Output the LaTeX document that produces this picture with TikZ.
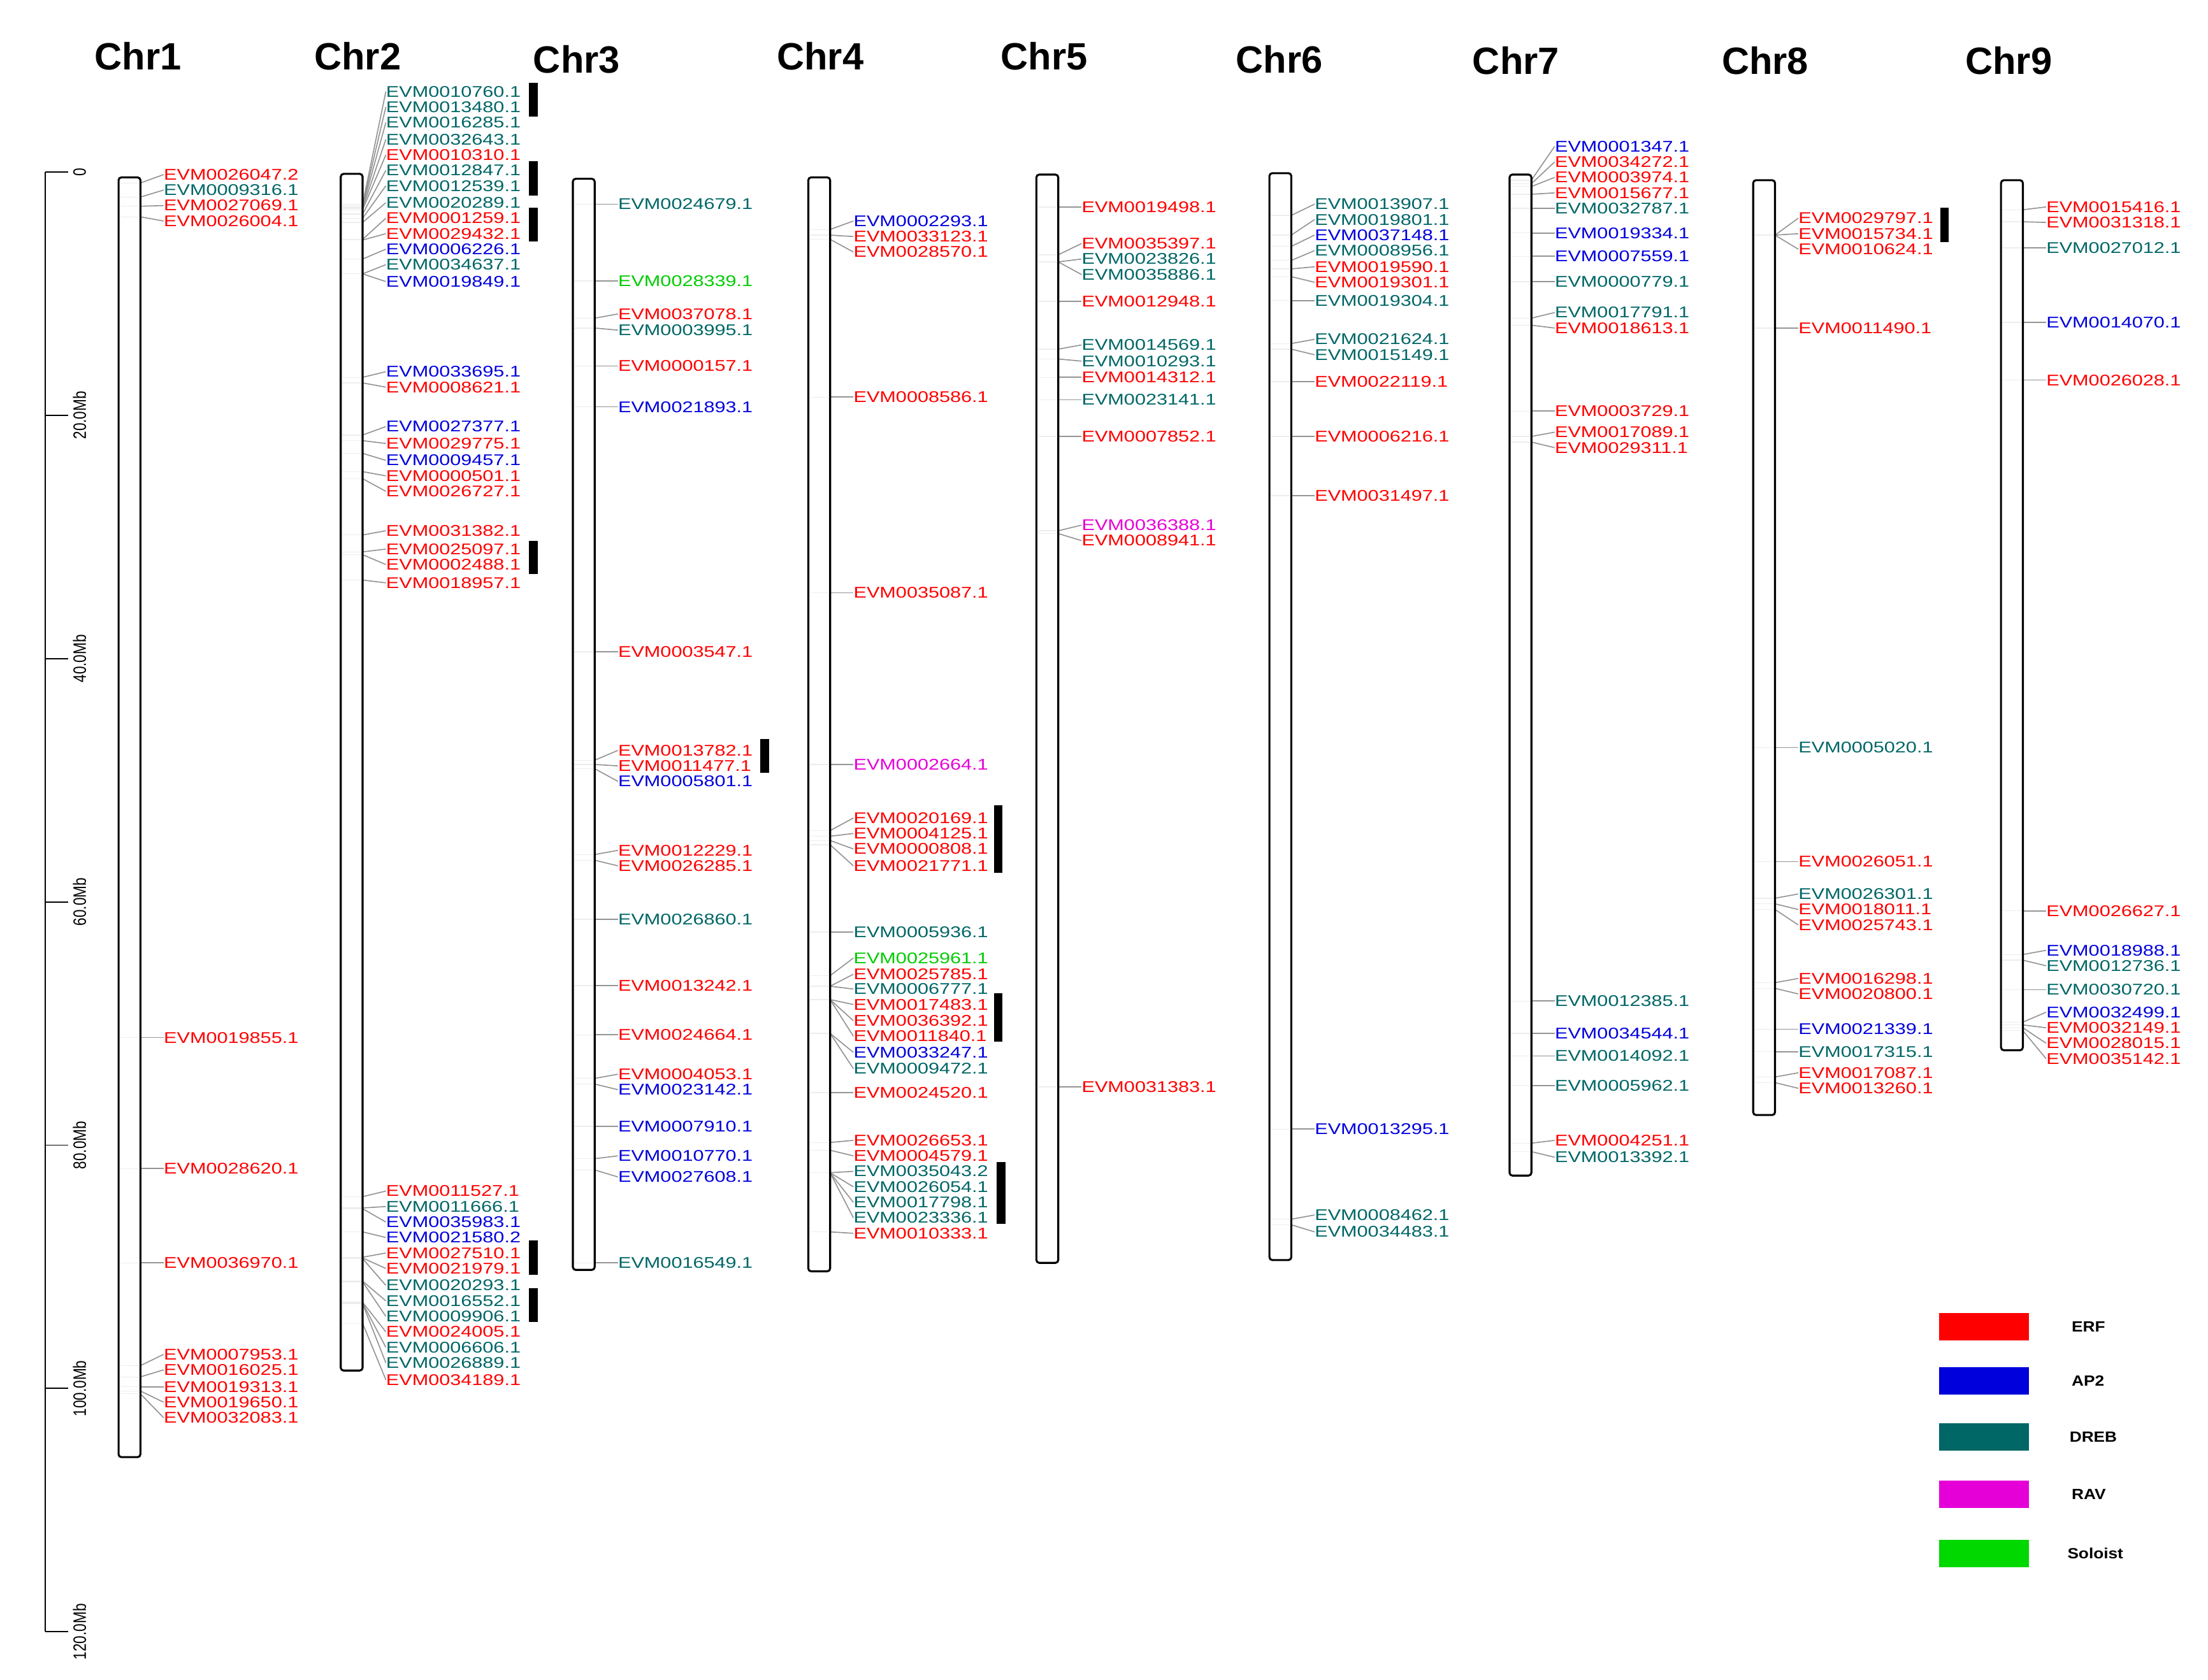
\documentclass[tikz,border=0pt]{standalone}
\usepackage{fontspec}
\setmainfont{Liberation Sans}
\usepackage{graphicx}
\definecolor{erf}{HTML}{FF0000}
\definecolor{ap2}{HTML}{0000DD}
\definecolor{dreb}{HTML}{006666}
\definecolor{rav}{HTML}{E600D8}
\definecolor{solo}{HTML}{00CC00}
\definecolor{solokey}{HTML}{00D800}
\tikzset{
  chrbar/.style={draw=black, line width=1.4pt, rounded corners=2pt},
  inbar/.style={draw=black!7, line width=0.6pt},
  conn/.style={draw=black!42, line width=0.75pt},
  lab/.style={anchor=west, inner sep=0pt, font=\fontsize{11}{12}\selectfont},
  ttl/.style={inner sep=0pt, font=\fontsize{27}{30}\selectfont\bfseries},
  tandem/.style={fill=black},
  axisline/.style={draw=black, line width=0.8pt},
  ticklab/.style={rotate=90, inner sep=0pt, font=\fontsize{10.2}{12}\selectfont},
  keybox/.style={draw=none, minimum width=64pt, minimum height=19.5pt, inner sep=0pt},
  keylab/.style={anchor=west, inner sep=0pt, font=\fontsize{10.5}{12}\selectfont\bfseries},
}
% #1 chromosome id, #2 bar left x, #3 top y, #4 bottom y, #5 list gene-y/label-y/colour/name
\newcommand\chrgenes[5]{%
  \foreach \gy/\ly/\gc/\gname [count=\i] in {#5} {
    \draw[inbar] (#2+1,\gy) -- (#2+14.5,\gy);
    \coordinate (#1g\i) at (#2+15.5,\gy);
    \node[lab, text=\gc] (#1l\i) at (#2+32,\ly) {\scalebox{1.26}[1]{\gname}};
    \draw[conn] (#1g\i) -- (#1l\i.west);
  }
  \draw[chrbar] (#2,#3) rectangle (#2+15.5,#4);
}
\begin{document}
\begin{tikzpicture}[x=1pt,y=-1pt]
\useasboundingbox (0,0) rectangle (1568,1193);

% titles
\node[ttl] (t1) at (98,40) {Chr1};
\node[ttl] (t2) at (254,40) {Chr2};
\node[ttl] (t3) at (409.5,42) {Chr3};
\node[ttl] (t4) at (582.5,40) {Chr4};
\node[ttl] (t5) at (741.5,40) {Chr5};
\node[ttl] (t6) at (908.5,42) {Chr6};
\node[ttl] (t7) at (1076.5,43) {Chr7};
\node[ttl] (t8) at (1253.5,43) {Chr8};
\node[ttl] (t9) at (1426.5,43) {Chr9};

% scale axis
\coordinate (ax0) at (32.3,122.2);
\coordinate (ax1) at (32.3,1159);
\draw[axisline] (ax0) -- (ax1);
\foreach \k/\txt in {0/0,1/20.0Mb,2/40.0Mb,3/60.0Mb,4/80.0Mb,5/100.0Mb,6/120.0Mb} {
  \coordinate (tk\k) at (32.3,122.2+172.8*\k);
  \draw[axisline] (tk\k) -- ++(16,0);
  \node[ticklab] (tl\k) at (56.5,122.2+172.8*\k) {\scalebox{1}[1.25]{\txt}};
}

\chrgenes{a}{84.2}{126}{1035}{130/124/erf/EVM0026047.2, 140/135/dreb/EVM0009316.1, 146.5/146/erf/EVM0027069.1, 154/157/erf/EVM0026004.1, 737/737/erf/EVM0019855.1, 830/830/erf/EVM0028620.1, 897/897/erf/EVM0036970.1, 970/962/erf/EVM0007953.1, 978/973/erf/EVM0016025.1, 985/985/erf/EVM0019313.1, 988/996/erf/EVM0019650.1, 990/1007/erf/EVM0032083.1}

\chrgenes{b}{242}{123.5}{973.5}{145/65/dreb/EVM0010760.1, 146/76/dreb/EVM0013480.1, 147/87/dreb/EVM0016285.1, 148/99/dreb/EVM0032643.1, 149/110/erf/EVM0010310.1, 152/121/dreb/EVM0012847.1, 155/132/dreb/EVM0012539.1, 158/144/dreb/EVM0020289.1, 170/155/erf/EVM0001259.1, 170.5/166/erf/EVM0029432.1, 184/177/ap2/EVM0006226.1, 194.5/188/dreb/EVM0034637.1, 194.5/200/ap2/EVM0019849.1, 268/264/ap2/EVM0033695.1, 272/275/erf/EVM0008621.1, 309/303/ap2/EVM0027377.1, 313/315/erf/EVM0029775.1, 322/327/ap2/EVM0009457.1, 335/338/erf/EVM0000501.1, 340/349/erf/EVM0026727.1, 380/377/erf/EVM0031382.1, 392/390/erf/EVM0025097.1, 394/401/erf/EVM0002488.1, 412/414/erf/EVM0018957.1, 850/846/erf/EVM0011527.1, 858/857/dreb/EVM0011666.1, 858.5/868/ap2/EVM0035983.1, 875/879/ap2/EVM0021580.2, 893/890/erf/EVM0027510.1, 893.5/901/erf/EVM0021979.1, 894/913/dreb/EVM0020293.1, 910/924/dreb/EVM0016552.1, 910.5/935/dreb/EVM0009906.1, 925/946/erf/EVM0024005.1, 925.5/957/dreb/EVM0006606.1, 926/968/dreb/EVM0026889.1, 940/980/erf/EVM0034189.1}

\chrgenes{c}{406.8}{127}{902}{145/145/dreb/EVM0024679.1, 199.5/199.5/solo/EVM0028339.1, 226/223/erf/EVM0037078.1, 233/234.5/dreb/EVM0003995.1, 260/260/erf/EVM0000157.1, 289/289/ap2/EVM0021893.1, 463/463/erf/EVM0003547.1, 540/533/erf/EVM0013782.1, 543/544/erf/EVM0011477.1, 546/555/ap2/EVM0005801.1, 607/604/erf/EVM0012229.1, 611/615/erf/EVM0026285.1, 653/653/dreb/EVM0026860.1, 700/700/erf/EVM0013242.1, 735/735/erf/EVM0024664.1, 766/763/erf/EVM0004053.1, 770/774/ap2/EVM0023142.1, 800/800/ap2/EVM0007910.1, 823/821/ap2/EVM0010770.1, 831/836/ap2/EVM0027608.1, 897/897/dreb/EVM0016549.1}

\chrgenes{d}{574}{126}{903}{163/157/ap2/EVM0002293.1, 167/168/erf/EVM0033123.1, 170/179/erf/EVM0028570.1, 282/282/erf/EVM0008586.1, 421/421/erf/EVM0035087.1, 543/543/rav/EVM0002664.1, 590/581/erf/EVM0020169.1, 594/592/erf/EVM0004125.1, 597/603/erf/EVM0000808.1, 600/615/erf/EVM0021771.1, 662/662/dreb/EVM0005936.1, 693/680.5/solo/EVM0025961.1, 700.5/692/erf/EVM0025785.1, 700.5/702.5/dreb/EVM0006777.1, 710/713.5/erf/EVM0017483.1, 710/725/erf/EVM0036392.1, 710/736/erf/EVM0011840.1, 734/747.5/ap2/EVM0033247.1, 734/759/dreb/EVM0009472.1, 776/776/erf/EVM0024520.1, 811.5/810/erf/EVM0026653.1, 817/821/erf/EVM0004579.1, 833/832/dreb/EVM0035043.2, 833/843/dreb/EVM0026054.1, 833/854/dreb/EVM0017798.1, 833/865/dreb/EVM0023336.1, 875/876/erf/EVM0010333.1}

\chrgenes{e}{736}{124}{897}{147/147/erf/EVM0019498.1, 181/173/erf/EVM0035397.1, 186/184/dreb/EVM0023826.1, 186/195/dreb/EVM0035886.1, 214/214/erf/EVM0012948.1, 248/245/dreb/EVM0014569.1, 255/256.5/dreb/EVM0010293.1, 268/268/erf/EVM0014312.1, 284/284/dreb/EVM0023141.1, 310/310/erf/EVM0007852.1, 377/373/rav/EVM0036388.1, 379/384/erf/EVM0008941.1, 772/772/erf/EVM0031383.1}

\chrgenes{f}{901.5}{123}{895}{153/145/dreb/EVM0013907.1, 167/156/dreb/EVM0019801.1, 175/167/ap2/EVM0037148.1, 185/178/dreb/EVM0008956.1, 191/189.5/erf/EVM0019590.1, 196.5/200.5/erf/EVM0019301.1, 213.5/213.5/dreb/EVM0019304.1, 244/241/dreb/EVM0021624.1, 248/252/dreb/EVM0015149.1, 271/271/erf/EVM0022119.1, 310/310/erf/EVM0006216.1, 352/352/erf/EVM0031497.1, 802/802/ap2/EVM0013295.1, 866/863/dreb/EVM0008462.1, 870/875/dreb/EVM0034483.1}

\chrgenes{g}{1072}{124}{835}{128/104/ap2/EVM0001347.1, 130.5/115/erf/EVM0034272.1, 132.5/126/erf/EVM0003974.1, 138/137/erf/EVM0015677.1, 148/148/dreb/EVM0032787.1, 165.5/165.5/ap2/EVM0019334.1, 182/182/ap2/EVM0007559.1, 200/200/dreb/EVM0000779.1, 226/222/dreb/EVM0017791.1, 231/233/erf/EVM0018613.1, 292/292/erf/EVM0003729.1, 310/307/erf/EVM0017089.1, 314/318/erf/EVM0029311.1, 711/711/dreb/EVM0012385.1, 734/734/ap2/EVM0034544.1, 750/750/dreb/EVM0014092.1, 771/771/dreb/EVM0005962.1, 812/810/erf/EVM0004251.1, 818/822/dreb/EVM0013392.1}

\chrgenes{h}{1245}{128}{792}{167/155/erf/EVM0029797.1, 167/166/erf/EVM0015734.1, 167/177/erf/EVM0010624.1, 233/233/erf/EVM0011490.1, 531/531/dreb/EVM0005020.1, 612/612/erf/EVM0026051.1, 638/635/dreb/EVM0026301.1, 642/646/erf/EVM0018011.1, 646/657/erf/EVM0025743.1, 698/695/erf/EVM0016298.1, 702/706/erf/EVM0020800.1, 731/731/ap2/EVM0021339.1, 747/747/dreb/EVM0017315.1, 765/762/erf/EVM0017087.1, 769/773/erf/EVM0013260.1}

\chrgenes{i}{1421}{128}{746}{149/147/erf/EVM0015416.1, 157.5/158/erf/EVM0031318.1, 176/176/dreb/EVM0027012.1, 229/229/ap2/EVM0014070.1, 270/270/erf/EVM0026028.1, 647/647/erf/EVM0026627.1, 678/675/ap2/EVM0018988.1, 682/686/dreb/EVM0012736.1, 703/703/dreb/EVM0030720.1, 726/719/ap2/EVM0032499.1, 728/730/erf/EVM0032149.1, 730/741/erf/EVM0028015.1, 732/752/erf/EVM0035142.1}

% tandem duplication bars
\fill[tandem] (375.6,59) rectangle (382,83);
\fill[tandem] (375.6,114.6) rectangle (382,138.8);
\fill[tandem] (375.6,147.5) rectangle (382,171.6);
\fill[tandem] (375.6,384) rectangle (382,407.5);
\fill[tandem] (375.6,881) rectangle (382,905.4);
\fill[tandem] (375.6,915) rectangle (382,939);
\fill[tandem] (540,525) rectangle (546,549);
\fill[tandem] (706,572) rectangle (712,620);
\fill[tandem] (706,705.5) rectangle (712,740);
\fill[tandem] (707.8,825.4) rectangle (714,869.2);
\fill[tandem] (1378,147.5) rectangle (1384,172);

% legend
\node[keybox, fill=erf] (kerf) at (1409,942.5) {};
\node[keybox, fill=ap2] (kap2) at (1409,981) {};
\node[keybox, fill=dreb] (kdreb) at (1409,1020.5) {};
\node[keybox, fill=rav] (krav) at (1409,1061.5) {};
\node[keybox, fill=solokey] (ksolo) at (1409,1103.5) {};
\node[keylab] (lerf) at (1471,942.5) {\scalebox{1.13}[1]{ERF}};
\node[keylab] (lap2) at (1471,981) {\scalebox{1.13}[1]{AP2}};
\node[keylab] (ldreb) at (1469.5,1020.5) {\scalebox{1.13}[1]{DREB}};
\node[keylab] (lrav) at (1471,1061.5) {\scalebox{1.13}[1]{RAV}};
\node[keylab] (lsolo) at (1468,1103.5) {\scalebox{1.13}[1]{Soloist}};
\end{tikzpicture}
\end{document}
